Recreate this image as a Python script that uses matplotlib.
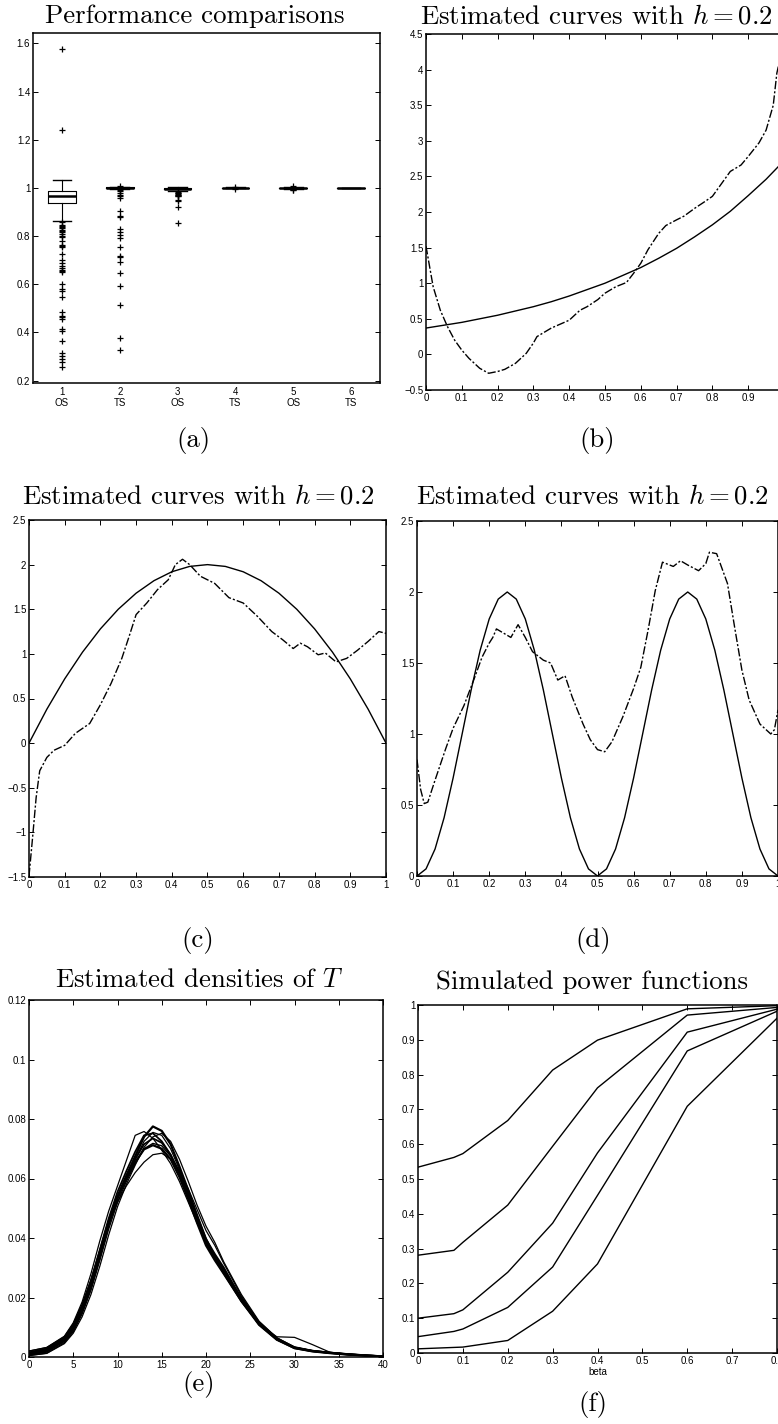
import numpy as np
import matplotlib
matplotlib.use('Agg')
import matplotlib.pyplot as plt
from matplotlib.ticker import FuncFormatter

W, H = 778, 1424

# ---- (a) box plot summaries
box_pos = [1, 2, 3, 4, 5, 6]
box_names = ['1\nOS', '2\nTS', '3\nOS', '4\nTS', '5\nOS', '6\nTS']
box_med = [0.968, 1.000, 0.997, 1.000, 0.999, 1.000]
box_q1 = [0.937, 0.998, 0.994, 0.999, 0.998, 0.9995]
box_q3 = [0.987, 1.002, 0.999, 1.001, 1.001, 1.0005]
box_lo = [0.861, 0.995, 0.986, 0.998, 0.996, 0.999]
box_hi = [1.033, 1.004, 1.002, 1.002, 1.003, 1.001]
fliers_1 = [1.575, 1.24, 0.857, 0.848, 0.843, 0.838, 0.832, 0.826, 0.82, 0.815,
            0.809, 0.80, 0.795, 0.781, 0.762, 0.757, 0.753, 0.726, 0.70, 0.69,
            0.677, 0.668, 0.659, 0.655, 0.65, 0.601, 0.58, 0.574, 0.546, 0.484,
            0.47, 0.462, 0.456, 0.414, 0.407, 0.366, 0.313, 0.304, 0.29, 0.276, 0.255]
fliers_2 = [1.006, 0.99, 0.985, 0.978, 0.972, 0.966, 0.96, 0.903, 0.885, 0.878,
            0.829, 0.816, 0.806, 0.792, 0.753, 0.719, 0.712, 0.691, 0.645, 0.591,
            0.514, 0.377, 0.327]
fliers_3 = [0.983, 0.98, 0.977, 0.975, 0.972, 0.97, 0.968, 0.965, 0.95, 0.947, 0.919, 0.855]
fliers_4 = [1.003, 0.997]
fliers_5 = [1.006, 0.993, 0.99]
fliers_6 = []

# ---- (b) exponential-type curve
xb_true = [0, 0.05, 0.1, 0.15, 0.2, 0.25, 0.3, 0.35, 0.4, 0.45, 0.5,
           0.55, 0.6, 0.65, 0.7, 0.75, 0.8, 0.85, 0.9, 0.95, 1.0]
yb_true = [0.37, 0.41, 0.45, 0.50, 0.55, 0.61, 0.67, 0.74, 0.82, 0.91, 1.0,
           1.11, 1.22, 1.35, 1.49, 1.65, 1.82, 2.01, 2.23, 2.46, 2.72]
xb_est = [0, 0.02, 0.04, 0.06, 0.08, 0.1, 0.12, 0.15, 0.175, 0.2, 0.22, 0.25, 0.28,
          0.3, 0.31, 0.35, 0.4, 0.43, 0.45, 0.48, 0.5, 0.53, 0.56, 0.58, 0.6, 0.62,
          0.65, 0.67, 0.7, 0.72, 0.75, 0.78, 0.8, 0.83, 0.85, 0.88, 0.9, 0.93, 0.95,
          0.97, 0.98, 1.0]
yb_est = [1.52, 0.95, 0.62, 0.39, 0.20, 0.06, -0.055, -0.195, -0.265, -0.24, -0.21,
          -0.125, 0.015, 0.16, 0.25, 0.37, 0.48, 0.62, 0.67, 0.77, 0.86, 0.95, 1.01,
          1.14, 1.28, 1.47, 1.70, 1.81, 1.89, 1.94, 2.05, 2.15, 2.22, 2.43, 2.57,
          2.66, 2.78, 2.97, 3.15, 3.50, 3.95, 4.40]

# ---- (c) parabola-type curve
xc_true = xb_true
yc_true = [0, 0.38, 0.72, 1.02, 1.28, 1.5, 1.68, 1.82, 1.92, 1.98, 2.0,
           1.98, 1.92, 1.82, 1.68, 1.5, 1.28, 1.02, 0.72, 0.38, 0]
xc_est = [0, 0.01, 0.02, 0.03, 0.05, 0.07, 0.1, 0.13, 0.17, 0.2, 0.23, 0.26, 0.28,
          0.3, 0.33, 0.36, 0.39, 0.41, 0.43, 0.45, 0.48, 0.52, 0.56, 0.6, 0.64, 0.68,
          0.71, 0.74, 0.76, 0.78, 0.81, 0.83, 0.86, 0.89, 0.92, 0.95, 0.98, 1.0]
yc_est = [-1.49, -1.06, -0.61, -0.31, -0.16, -0.08, -0.025, 0.11, 0.22, 0.43, 0.67,
          0.95, 1.19, 1.44, 1.57, 1.72, 1.83, 2.0, 2.06, 2.0, 1.87, 1.79, 1.63, 1.57,
          1.42, 1.25, 1.16, 1.06, 1.12, 1.08, 0.99, 1.01, 0.91, 0.95, 1.04, 1.14,
          1.25, 1.23]

# ---- (d) two-bump curve
xd_true = [0, 0.025, 0.05, 0.075, 0.1, 0.125, 0.15, 0.175, 0.2, 0.225, 0.25,
           0.275, 0.3, 0.325, 0.35, 0.375, 0.4, 0.425, 0.45, 0.475, 0.5,
           0.525, 0.55, 0.575, 0.6, 0.625, 0.65, 0.675, 0.7, 0.725, 0.75,
           0.775, 0.8, 0.825, 0.85, 0.875, 0.9, 0.925, 0.95, 0.975, 1.0]
yd_true = [0, 0.05, 0.19, 0.41, 0.69, 1.0, 1.31, 1.59, 1.81, 1.95, 2.0,
           1.95, 1.81, 1.59, 1.31, 1.0, 0.69, 0.41, 0.19, 0.05, 0,
           0.05, 0.19, 0.41, 0.69, 1.0, 1.31, 1.59, 1.81, 1.95, 2.0,
           1.95, 1.81, 1.59, 1.31, 1.0, 0.69, 0.41, 0.19, 0.05, 0]
xd_est = [0, 0.01, 0.02, 0.03, 0.05, 0.08, 0.1, 0.13, 0.16, 0.18, 0.2, 0.21, 0.22,
          0.24, 0.26, 0.28, 0.3, 0.32, 0.35, 0.37, 0.39, 0.41, 0.43, 0.46, 0.48, 0.5,
          0.52, 0.54, 0.57, 0.6, 0.62, 0.64, 0.66, 0.68, 0.7, 0.71, 0.73, 0.75, 0.78,
          0.8, 0.81, 0.83, 0.86, 0.88, 0.9, 0.92, 0.95, 0.98, 0.99, 1.0]
yd_est = [0.82, 0.61, 0.51, 0.52, 0.675, 0.90, 1.04, 1.20, 1.40, 1.54, 1.64, 1.68,
          1.74, 1.71, 1.68, 1.77, 1.68, 1.58, 1.52, 1.50, 1.38, 1.41, 1.26, 1.07,
          0.96, 0.89, 0.875, 0.945, 1.12, 1.32, 1.47, 1.73, 2.01, 2.21, 2.19, 2.18,
          2.22, 2.19, 2.15, 2.20, 2.28, 2.27, 2.06, 1.75, 1.45, 1.24, 1.07, 1.00,
          1.03, 1.17]

# ---- (e) estimated densities of T
xe = [0, 2, 4, 5, 6, 7, 8, 9, 10, 11, 12, 13, 14, 15, 16, 17, 18, 19, 20, 21, 22,
      24, 26, 28, 30, 32, 34, 36, 38, 40]
dens_1 = [0.0008, 0.0018, 0.0055, 0.0095, 0.0155, 0.0235, 0.0340, 0.0450, 0.0540,
          0.0610, 0.0675, 0.0740, 0.0775, 0.0760, 0.0715, 0.0640, 0.0560, 0.0470,
          0.0395, 0.0345, 0.0300, 0.0195, 0.0110, 0.0060, 0.0030, 0.0020, 0.0014,
          0.0009, 0.0005, 0.0002]
dens_2 = [0.0020, 0.0032, 0.0070, 0.0115, 0.0185, 0.0280, 0.0390, 0.0490, 0.0575,
          0.0660, 0.0745, 0.0758, 0.0735, 0.0695, 0.0650, 0.0590, 0.0520, 0.0450,
          0.0385, 0.0335, 0.0290, 0.0190, 0.0110, 0.0058, 0.0030, 0.0019, 0.0013,
          0.0008, 0.0005, 0.0002]
dens_3 = [0.0012, 0.0024, 0.0062, 0.0105, 0.0170, 0.0255, 0.0360, 0.0465, 0.0555,
          0.0625, 0.0690, 0.0745, 0.0752, 0.0725, 0.0680, 0.0615, 0.0540, 0.0460,
          0.0385, 0.0335, 0.0290, 0.0195, 0.0115, 0.0062, 0.0032, 0.0021, 0.0015,
          0.0010, 0.0006, 0.0002]
dens_4 = [0.0005, 0.0012, 0.0045, 0.0080, 0.0135, 0.0210, 0.0305, 0.0410, 0.0505,
          0.0580, 0.0645, 0.0705, 0.0740, 0.0752, 0.0725, 0.0665, 0.0590, 0.0510,
          0.0440, 0.0385, 0.0320, 0.0210, 0.0120, 0.0065, 0.0033, 0.0021, 0.0014,
          0.0009, 0.0005, 0.0002]
dens_5 = [0.0010, 0.0020, 0.0058, 0.0098, 0.0160, 0.0240, 0.0345, 0.0450, 0.0535,
          0.0605, 0.0665, 0.0715, 0.0735, 0.0720, 0.0680, 0.0620, 0.0545, 0.0465,
          0.0390, 0.0335, 0.0285, 0.0190, 0.0110, 0.0060, 0.0031, 0.0020, 0.0014,
          0.0009, 0.0005, 0.0002]
dens_6 = [0.0005, 0.0013, 0.0048, 0.0085, 0.0145, 0.0225, 0.0325, 0.0430, 0.0520,
          0.0590, 0.0650, 0.0700, 0.0718, 0.0710, 0.0675, 0.0625, 0.0560, 0.0480,
          0.0400, 0.0340, 0.0290, 0.0200, 0.0118, 0.0064, 0.0034, 0.0022, 0.0015,
          0.0010, 0.0006, 0.0003]
dens_7 = [0.0015, 0.0028, 0.0065, 0.0108, 0.0172, 0.0255, 0.0355, 0.0455, 0.0535,
          0.0600, 0.0655, 0.0698, 0.0712, 0.0700, 0.0665, 0.0605, 0.0530, 0.0450,
          0.0375, 0.0325, 0.0280, 0.0188, 0.0108, 0.0058, 0.0030, 0.0019, 0.0013,
          0.0008, 0.0005, 0.0002]
dens_8 = [0.0020, 0.0032, 0.0068, 0.0110, 0.0175, 0.0258, 0.0355, 0.0450, 0.0520,
          0.0575, 0.0620, 0.0655, 0.0680, 0.0685, 0.0665, 0.0625, 0.0565, 0.0495,
          0.0425, 0.0375, 0.0315, 0.0205, 0.0115, 0.0062, 0.0032, 0.0020, 0.0014,
          0.0009, 0.0005, 0.0002]
dens_9 = [0.0008, 0.0018, 0.0052, 0.0090, 0.0150, 0.0230, 0.0330, 0.0440, 0.0530,
          0.0600, 0.0665, 0.0725, 0.0755, 0.0745, 0.0700, 0.0630, 0.0550, 0.0465,
          0.0385, 0.0330, 0.0280, 0.0185, 0.0110, 0.0068, 0.0066, 0.0042, 0.0016,
          0.0009, 0.0005, 0.0002]
dens_all = [dens_1, dens_2, dens_3, dens_4, dens_5, dens_6, dens_7, dens_8, dens_9]
dens_lw = [1.6, 0.9, 1.3, 0.9, 1.3, 1.0, 1.6, 0.9, 0.9]

# ---- (f) simulated power functions
beta = [0, 0.08, 0.1, 0.2, 0.3, 0.4, 0.6, 0.8]
power_1 = [0.534, 0.562, 0.573, 0.668, 0.813, 0.899, 0.989, 0.998]
power_2 = [0.281, 0.295, 0.318, 0.425, 0.594, 0.762, 0.971, 0.993]
power_3 = [0.100, 0.113, 0.124, 0.232, 0.373, 0.575, 0.922, 0.988]
power_4 = [0.047, 0.062, 0.069, 0.131, 0.247, 0.453, 0.868, 0.982]
power_5 = [0.012, 0.016, 0.017, 0.036, 0.120, 0.256, 0.709, 0.962]

plt.rcParams['mathtext.fontset'] = 'cm'
plt.rcParams['font.family'] = ['Liberation Sans', 'DejaVu Sans']

DASH = (0, (6, 1.5, 1.5, 1.5))
TICK_SIZE = 7


def box(l, t, r, b):
    return [l / W, 1 - b / H, (r - l) / W, (b - t) / H]


def tick_fmt(v, pos):
    return ('%g' % round(v, 6)).replace('-', '\u2212')


def style(ax, xlim, ylim, xticks, yticks):
    ax.set_xlim(xlim)
    ax.set_ylim(ylim)
    ax.set_xticks(xticks)
    ax.set_yticks(yticks)
    ax.xaxis.set_major_formatter(FuncFormatter(tick_fmt))
    ax.yaxis.set_major_formatter(FuncFormatter(tick_fmt))
    ax.tick_params(direction='in', length=3.5, width=0.7, top=True, right=True,
                   labelsize=TICK_SIZE, pad=2, colors='black')
    for s in ax.spines.values():
        s.set_linewidth(1.1)


def label(fig, x, y, s, size=19.3):
    fig.text(x / W, 1 - y / H, s, ha='center', va='center', fontsize=size,
             family='cmr10')


fig = plt.figure(figsize=(W / 100, H / 100), dpi=100)

# (a)
ax = fig.add_axes(box(33, 33, 380, 383))
fl = [fliers_1, fliers_2, fliers_3, fliers_4, fliers_5, fliers_6]
stats = [dict(med=box_med[i], q1=box_q1[i], q3=box_q3[i], whislo=box_lo[i],
              whishi=box_hi[i], fliers=fl[i]) for i in range(6)]
ax.bxp(stats, positions=box_pos, widths=0.48, capwidths=0.32,
       boxprops=dict(color='black', lw=0.8),
       whiskerprops=dict(color='black', lw=0.8),
       capprops=dict(color='black', lw=1.0),
       medianprops=dict(color='black', lw=1.8),
       flierprops=dict(marker='+', markersize=5, markeredgecolor='black',
                       markeredgewidth=0.9, linestyle='none'))
style(ax, (0.5, 6.5), (0.19, 1.643), box_pos, np.arange(0.2, 1.61, 0.2))
ax.set_xticklabels(box_names, linespacing=1.1)
ax.tick_params(axis='x', length=0, pad=3)

# (b)
ax = fig.add_axes(box(426, 34, 784, 390))
ax.plot(xb_true, yb_true, color='black', lw=1.0)
ax.plot(xb_est, yb_est, color='black', lw=1.0, ls=DASH)
style(ax, (0, 1), (-0.5, 4.5), np.arange(0, 1.01, 0.1), np.arange(-0.5, 4.51, 0.5))

# (c)
ax = fig.add_axes(box(29, 520, 386, 877))
ax.plot(xc_true, yc_true, color='black', lw=1.0)
ax.plot(xc_est, yc_est, color='black', lw=1.0, ls=DASH)
style(ax, (0, 1), (-1.5, 2.5), np.arange(0, 1.01, 0.1), np.arange(-1.5, 2.51, 0.5))

# (d)
ax = fig.add_axes(box(417, 521, 778, 876))
ax.plot(xd_true, yd_true, color='black', lw=1.0)
ax.plot(xd_est, yd_est, color='black', lw=1.0, ls=DASH)
style(ax, (0, 1), (0, 2.5), np.arange(0, 1.01, 0.1), np.arange(0, 2.51, 0.5))

# (e)
ax = fig.add_axes(box(29, 1000, 383, 1357))
for d, w in zip(dens_all, dens_lw):
    ax.plot(xe, d, color='black', lw=w)
style(ax, (0, 40), (0, 0.12), np.arange(0, 41, 5), np.arange(0, 0.121, 0.02))

# (f)
ax = fig.add_axes(box(418, 1005, 777, 1353))
for p in [power_1, power_2, power_3, power_4, power_5]:
    ax.plot(beta, p, color='black', lw=1.0)
style(ax, (0, 0.8), (0, 1), np.arange(0, 0.81, 0.1), np.arange(0, 1.01, 0.1))
ax.set_xlabel('beta', fontsize=TICK_SIZE, labelpad=1)

# titles and panel letters
label(fig, 195, 16, 'Performance comparisons')
label(fig, 596, 16, 'Estimated curves with $h=0.2$')
label(fig, 198, 497, 'Estimated curves with $h=0.2$')
label(fig, 592, 497, 'Estimated curves with $h=0.2$')
label(fig, 199, 980, 'Estimated densities of $T$')
label(fig, 592, 982, 'Simulated power functions')
label(fig, 193, 440, '(a)')
label(fig, 597, 440, '(b)')
label(fig, 198, 940, '(c)')
label(fig, 593, 940, '(d)')
label(fig, 199, 1385, '(e)')
label(fig, 593, 1405, '(f)')

fig.savefig('out.png', dpi=100)
